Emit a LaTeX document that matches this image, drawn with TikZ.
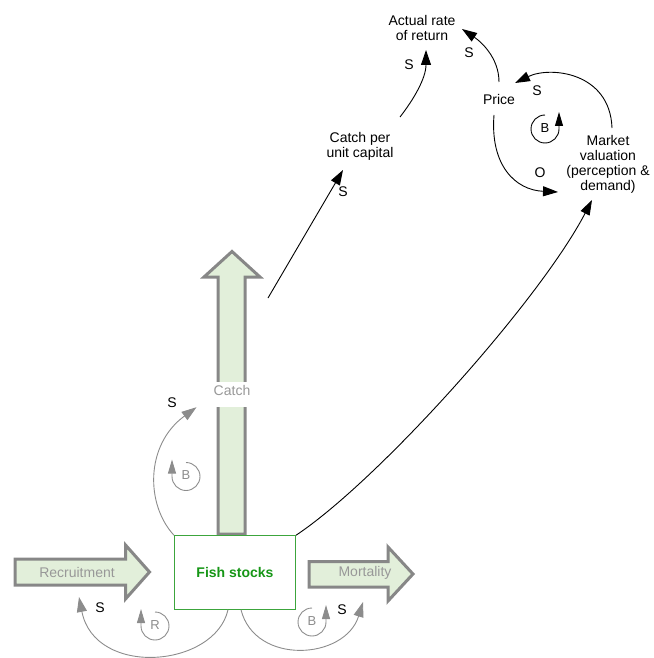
\documentclass[tikz,border=0pt]{standalone}
\usepackage{fontspec}
\setmainfont{Liberation Sans}
\usetikzlibrary{arrows.meta,calc}

\definecolor{flowfill}{RGB}{226,239,218}
\definecolor{flowedge}{RGB}{135,135,135}
\definecolor{flowtext}{RGB}{152,152,152}
\definecolor{linkgray}{RGB}{140,140,140}
\definecolor{stockgreen}{RGB}{60,165,60}
\definecolor{stocktext}{RGB}{22,150,22}

\tikzset{
  % feedback-loop marker, arrow on the left, turning clockwise
  loopcw/.pic={
    \begin{scope}[y=1pt]
      \draw[line width=0.9pt,-{Triangle[length=14pt,width=8pt]}]
        (0,14) arc[start angle=90,end angle=-180,radius=14] -- ++(0,17);
      \node[font=\fontsize{13}{13}\selectfont,inner sep=0pt] (-letter) at (0,1) {#1};
    \end{scope}},
  % feedback-loop marker, arrow on the right, turning anticlockwise
  loopccw/.pic={
    \begin{scope}[y=1pt]
      \draw[line width=0.9pt,-{Triangle[length=14pt,width=8pt]}]
        (0,14) arc[start angle=90,end angle=360,radius=14] -- ++(0,17);
      \node[font=\fontsize{13}{13}\selectfont,inner sep=0pt] (-letter) at (0,1) {#1};
    \end{scope}},
}

\begin{document}
\begin{tikzpicture}[x=1pt,y=-1pt,
  every node/.style={font=\fontsize{14}{15}\selectfont,inner sep=0pt},
  lbl/.style={align=center},
  flow/.style={draw=flowedge,fill=flowfill,line width=3pt,line join=miter},
  flowlabel/.style={text=flowtext},
  link/.style={draw=black,line width=0.9pt,-{Triangle[length=15pt,width=10pt]}},
  glink/.style={draw=linkgray,line width=0.9pt,-{Triangle[length=15pt,width=10pt]}},
  stock/.style={draw=stockgreen,fill=white,line width=1pt,minimum width=121pt,
    minimum height=73.5pt,text=stocktext,font=\fontsize{14}{15}\selectfont\bfseries},
]
\useasboundingbox (0,0) rectangle (653,658);

% material flows
\filldraw[flow] (218,534) -- (218,277) -- (204,277) -- (232,251.5) -- (260,277)
  -- (245,277) -- (245,534) -- cycle;
\filldraw[flow] (15,559) -- (125.5,559) -- (125.5,545) -- (149.5,572) -- (125.5,599)
  -- (125.5,585) -- (15,585) -- cycle;
\filldraw[flow] (309,561.5) -- (388,561.5) -- (388,547) -- (413,574) -- (388,601)
  -- (388,587) -- (309,587) -- cycle;
\coordinate (catchout) at (268,298);

% the stock
\node[stock] (fish) at (235,572.5) {Fish stocks};

% flow labels
\node[flowlabel,fill=white,text height=13pt,text depth=12pt,inner xsep=2pt]
  (catchlbl) at (232,394.5) {Catch};
\node[flowlabel] (recr) at (77,572) {Recruitment};
\node[flowlabel] (mort) at (365,573) {Mortality};

% market variables
\node[lbl] (cpc) at (360,146) {Catch per\\unit capital};
\node[lbl] (arr) at (422,28) {Actual rate\\of return};
\node (price) at (499,99) {Price};
\node[lbl] (mv) at (608,164) {Market\\valuation\\(perception \&\\demand)};

% causal links
\draw[link] (catchout) -- ($(cpc)+(-17,24)$);
\draw[link] ($(cpc)+(40,-29)$) .. controls +(14,-18) and +(0,28) .. ($(arr)+(4,22)$);
\draw[link] ($(price)+(0,-17)$) .. controls +(0,-25) and +(18,12) .. ($(arr)+(40,1)$);
\draw[link] ($(mv)+(4,-36)$) .. controls +(-2,-56) and +(35,-17) .. ($(price)+(16,-16)$);
\draw[link] ($(price)+(-5,16)$) .. controls +(-4,50) and +(-43,-2) .. ($(mv)+(-50,28)$);
\draw[link] (fish.north east) .. controls +(84,-56) and +(-52,100) .. ($(mv)+(-16,36)$);

\draw[glink] (fish.north west) .. controls +(-28,-30) and +(-52,38) .. ($(catchlbl.south west)+(-15,0)$);
\draw[glink] ($(fish.south)+(-7,0)$) .. controls +(-13,58) and +(16,81) .. ($(recr)+(2,25)$);
\draw[glink] ($(fish.south)+(6,0)$) .. controls +(14,56) and +(-18,58) .. ($(mort)+(-2,29)$);

% polarity labels
\node (s1) at (343,192) {S};
\node (s2) at (409,65) {S};
\node (s3) at (469,53) {S};
\node (s4) at (537,91) {S};
\node (o1) at (540,173) {O};
\node (s5) at (172,403) {S};
\node (s6) at (100,608) {S};
\node (s7) at (342,610) {S};

% loop markers
\pic[color=linkgray] (loopcatch) at (186,476.5) {loopcw={B}};
\pic[color=linkgray] (looprec) at (155,626) {loopcw={R}};
\pic[color=linkgray] (loopmort) at (312,622) {loopccw={B}};
\pic[color=black] (loopmarket) at (545,129) {loopccw={B}};
\end{tikzpicture}
\end{document}
